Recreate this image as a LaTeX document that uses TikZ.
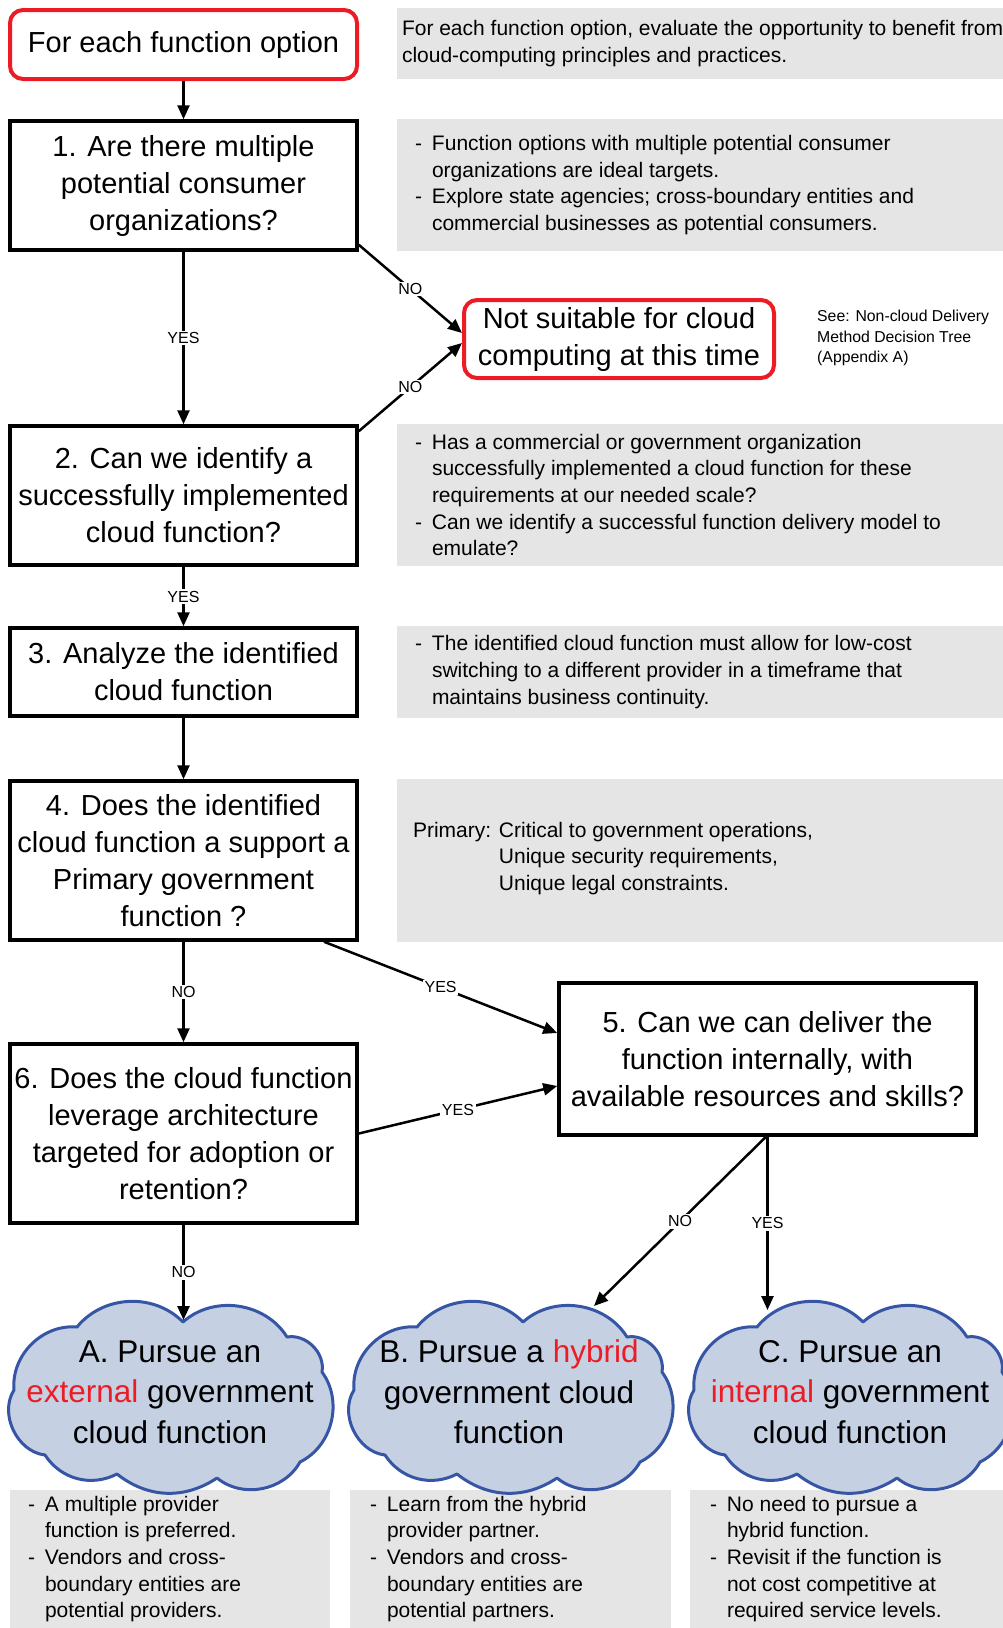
\documentclass[tikz,border=0pt]{standalone}
\usepackage{fontspec}
\setmainfont{Liberation Sans}
\usetikzlibrary{arrows.meta}
\definecolor{redb}{RGB}{237,28,36}
\definecolor{grayf}{RGB}{229,229,229}
\definecolor{cloudf}{RGB}{197,208,227}
\definecolor{cloudd}{RGB}{55,85,165}
\newcommand\bxf{\fontsize{29pt}{37pt}\selectfont}
\newcommand\gxf{\fontsize{21pt}{26.7pt}\selectfont}
\newcommand\cxf{\fontsize{31.5pt}{40.5pt}\selectfont}
\newcommand\dsh{\makebox[17pt][l]{-}}
\newcommand\ind{\hspace*{17pt}}
\tikzset{
  qbox/.style={draw, line width=3.5pt, minimum width=347pt, align=center, font=\bxf, inner sep=0pt},
  redbox/.style={draw=redb, line width=4pt, rounded corners=13pt, align=center, font=\bxf, inner sep=0pt},
  grayrect/.style={fill=grayf, inner sep=0pt},
  gtext/.style={anchor=west, align=left, font=\gxf, inner sep=0pt},
  lbl/.style={fill=white, font=\fontsize{16pt}{18pt}\selectfont, inner sep=1.5pt},
  arr/.style={line width=2.5pt, -{Triangle[length=14pt,width=12pt]}},
  cloudline/.style={draw=cloudd, fill=cloudf, line width=3pt, line join=round},
  ctext/.style={align=center, font=\cxf, inner sep=0pt}
}
\begin{document}
\begin{tikzpicture}[x=1pt,y=-1pt]
\useasboundingbox[fill=white] (0,0) rectangle (1003,1628);

% gray boxes
\node[grayrect, minimum width=606pt, minimum height=71pt] (g0) at (700,43.5) {};
\node[grayrect, minimum width=606pt, minimum height=132pt] (g1) at (700,185) {};
\node[grayrect, minimum width=606pt, minimum height=142pt] (g2) at (700,495) {};
\node[grayrect, minimum width=606pt, minimum height=92pt] (g3) at (700,672) {};
\node[grayrect, minimum width=606pt, minimum height=163pt] (g4) at (700,860.5) {};
\node[grayrect, minimum width=320pt, minimum height=138pt] (gA) at (170,1559) {};
\node[grayrect, minimum width=321pt, minimum height=138pt] (gB) at (510.5,1559) {};
\node[grayrect, minimum width=313pt, minimum height=138pt] (gC) at (846.5,1559) {};

\node[gtext] (t0) at ([xshift=5pt]g0.west) {For each function option, evaluate the opportunity to benefit from\\cloud-computing principles and practices.};
\node[gtext] (t1) at ([xshift=18pt]g1.west) {\dsh Function options with multiple potential consumer\\\ind organizations are ideal targets.\\\dsh Explore state agencies; cross-boundary entities and\\\ind commercial businesses as potential consumers.};
\node[gtext] (t2) at ([xshift=18pt]g2.west) {\dsh Has a commercial or government organization\\\ind successfully implemented a cloud function for these\\\ind requirements at our needed scale?\\\dsh Can we identify a successful function delivery model to\\\ind emulate?};
\node[gtext] (t3) at ([xshift=18pt]g3.west) {\dsh The identified cloud function must allow for low-cost\\\ind switching to a different provider in a timeframe that\\\ind maintains business continuity.};
\node[gtext] (t4) at ([xshift=16pt,yshift=2pt]g4.west) {Primary: Critical to government operations,\\\hphantom{Primary: }Unique security requirements,\\\hphantom{Primary: }Unique legal constraints.};
\node[gtext] (tA) at ([xshift=18pt]gA.west) {\dsh A multiple provider\\\ind function is preferred.\\\dsh Vendors and cross-\\\ind boundary entities are\\\ind potential providers.};
\node[gtext] (tB) at ([xshift=20pt]gB.west) {\dsh Learn from the hybrid\\\ind provider partner.\\\dsh Vendors and cross-\\\ind boundary entities are\\\ind potential partners.};
\node[gtext] (tC) at ([xshift=20pt]gC.west) {\dsh No need to pursue a\\\ind hybrid function.\\\dsh Revisit if the function is\\\ind not cost competitive at\\\ind required service levels.};

% question boxes
\node[redbox, minimum width=347pt, minimum height=69pt] (b0) at (183.5,44.5) {For each function option};
\node[qbox, minimum height=129pt] (b1) at (183.5,185.5) {1. Are there multiple\\potential consumer\\organizations?};
\node[qbox, minimum height=139pt] (b2) at (183.5,495.5) {2. Can we identify a\\successfully implemented\\cloud function?};
\node[qbox, minimum height=88pt] (b3) at (183.5,672) {3. Analyze the identified\\cloud function};
\node[qbox, minimum height=159pt] (b4) at (183.5,860.5) {4. Does the identified\\cloud function a support a\\Primary government\\function ?};
\node[qbox, minimum width=417pt, minimum height=152pt] (b5) at (767.5,1059) {5. Can we can deliver the\\function internally, with\\available resources and skills?};
\node[qbox, minimum height=179pt] (b6) at (183.5,1133.5) {6. Does the cloud function\\leverage architecture\\targeted for adoption or\\retention?};
\node[redbox, minimum width=310pt, minimum height=78pt] (ns) at (619,339) {Not suitable for cloud\\computing at this time};
\node[anchor=west, align=left, font=\fontsize{15.8pt}{20.8pt}\selectfont, inner sep=0pt] (see) at (817,338) {See: Non-cloud Delivery\\Method Decision Tree\\(Appendix A)};

% clouds
\foreach \dx in {0,340,680}{
  \begin{scope}[shift={(\dx,0)}]
    \path[cloudline] (183,1322) to[bend left=50] (287,1337) to[bend left=55] (322,1372)
      to[bend left=50] (300,1462) to[bend left=50] (217,1478) to[bend left=36] (117,1474)
      to[bend left=42] (45,1455) to[bend left=58] (14,1390) to[bend left=50] (77,1327)
      to[bend left=48] (183,1322) -- cycle;
  \end{scope}
}
\node[ctext] (xA) at (170,1392) {A. Pursue an\\\textcolor{redb}{external} government\\cloud function};
\node[ctext] (xB) at (509,1392) {B. Pursue a \textcolor{redb}{hybrid}\\government cloud\\function};
\node[ctext] (xC) at (850,1392) {C. Pursue an\\\textcolor{redb}{internal} government\\cloud function};

\coordinate (eA) at (183.5,1320);
\coordinate (eB) at (594,1306);
\coordinate (eC) at (767.5,1310);

% connectors
\draw[arr] (b0.south) -- (b1.north);
\draw[arr] (b1.south) -- node[lbl]{YES} (b2.north);
\draw[arr] ([yshift=7pt]b1.south east) -- node[lbl]{NO} ([yshift=6pt]ns.west);
\draw[arr] ([yshift=-7pt]b2.north east) -- node[lbl]{NO} ([yshift=-4pt]ns.west);
\draw[arr] (b2.south) -- node[lbl]{YES} (b3.north);
\draw[arr] (b3.south) -- (b4.north);
\draw[arr] (b4.south) -- node[lbl]{NO} (b6.north);
\draw[arr] ([xshift=140.5pt]b4.south) -- node[lbl]{YES} ([yshift=26pt]b5.west);
\draw[arr] (b6.east) -- node[lbl]{YES} ([yshift=-27pt]b5.west);
\draw[arr] (b6.south) -- node[lbl]{NO} (eA);
\draw[arr] ([xshift=-1.5pt]b5.south) -- node[lbl]{NO} (eB);
\draw[arr] (b5.south) -- node[lbl]{YES} (eC);
\end{tikzpicture}
\end{document}
